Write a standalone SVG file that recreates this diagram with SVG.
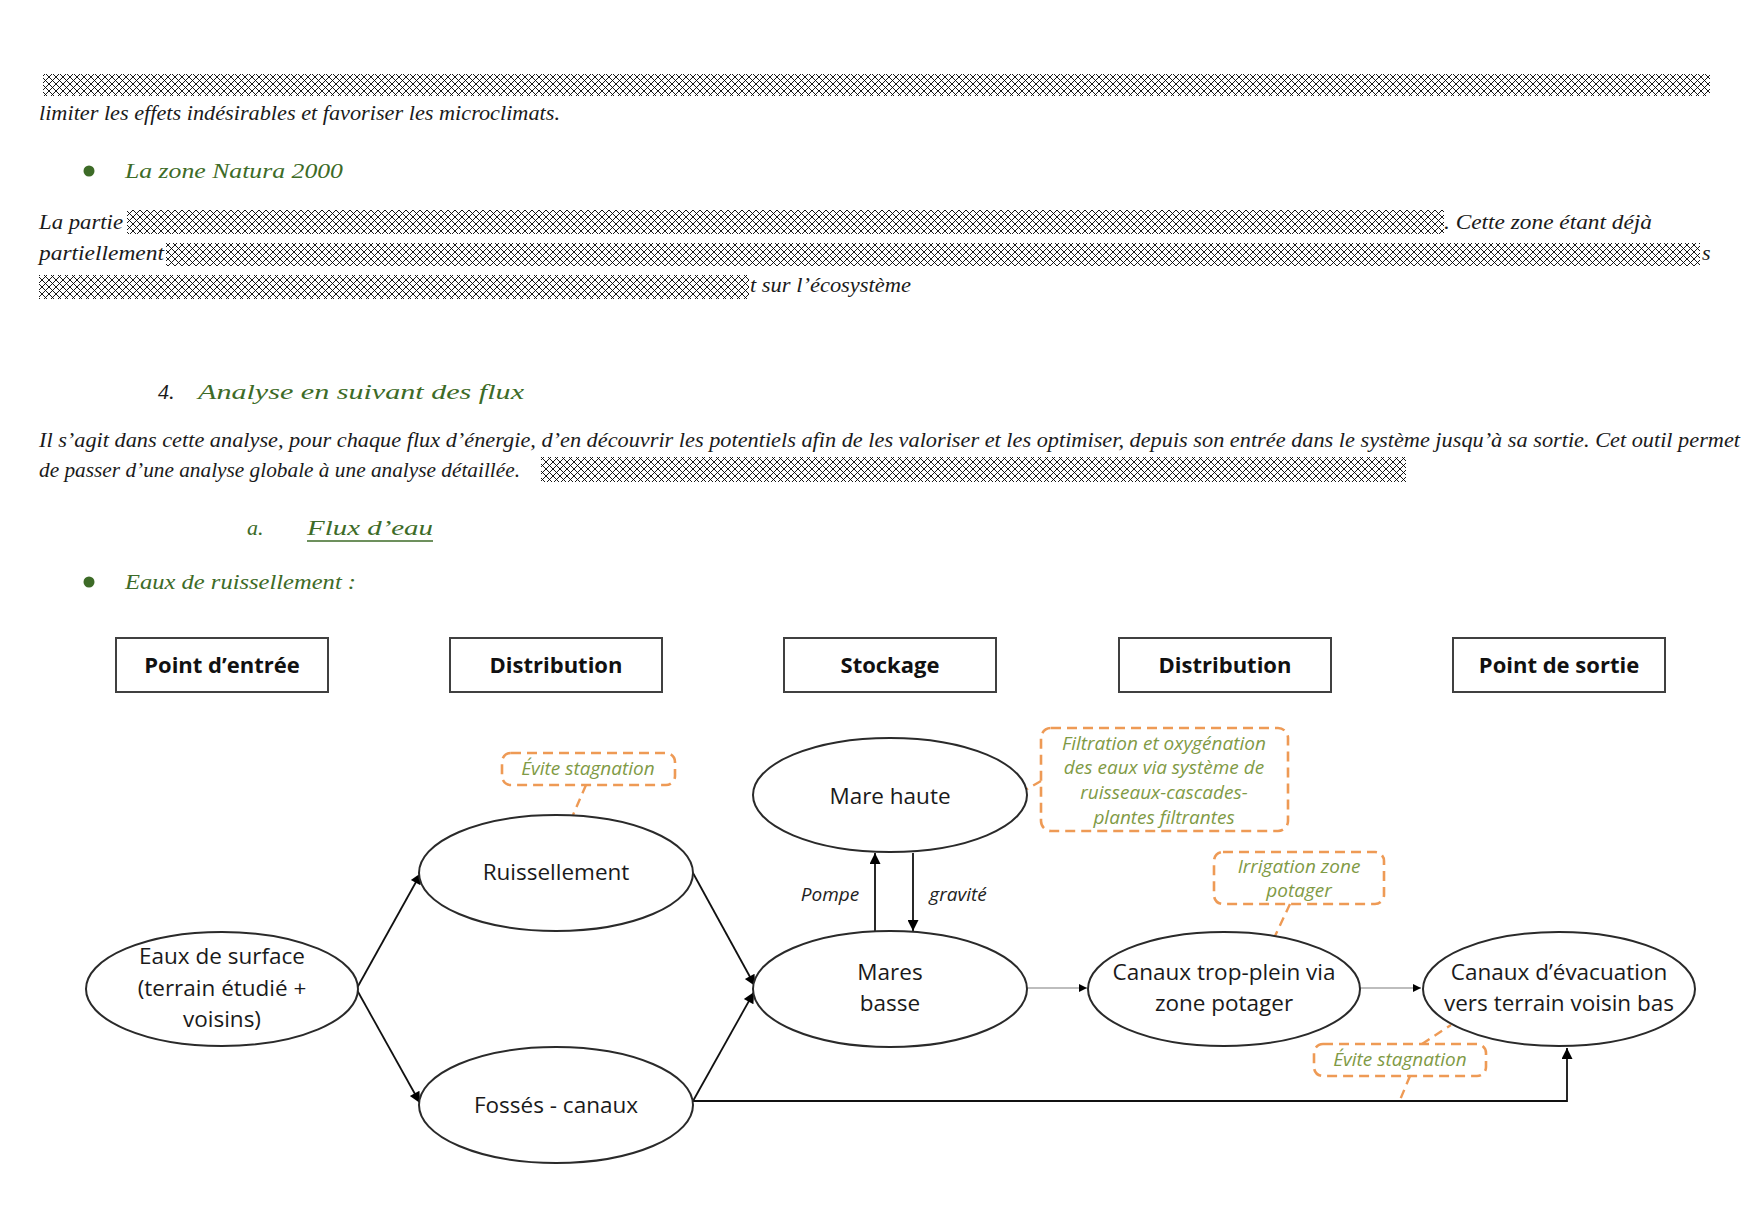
<svg xmlns="http://www.w3.org/2000/svg" width="1754" height="1217" viewBox="0 0 1754 1217">
<defs>
<pattern id="hatch" width="7" height="7" patternUnits="userSpaceOnUse">
<rect width="7" height="7" fill="#fff"/>
<path d="M0,0 L7,7 M7,0 L0,7" stroke="#000" stroke-width="0.9"/>
</pattern>
<marker id="ah" viewBox="0 0 10 10" refX="10" refY="5" markerWidth="15" markerHeight="11" markerUnits="userSpaceOnUse" orient="auto">
<path d="M0,0 L10,5 L0,10 z" fill="#000"/>
</marker>
<marker id="ahs" viewBox="0 0 10 10" refX="10" refY="5" markerWidth="8" markerHeight="8" markerUnits="userSpaceOnUse" orient="auto">
<path d="M0,0 L10,5 L0,10 z" fill="#000"/>
</marker>
<style>
.body{font-family:"Liberation Serif",serif;font-style:italic;font-size:22px;fill:#1a1a1a}
.green{fill:#3d6b27}
.hatch{fill:url(#hatch)}
.hdr rect{fill:#fff;stroke:#404040;stroke-width:2}
.hdr text{font-family:"Open Sans",sans-serif;font-weight:bold;font-size:22px;fill:#111;text-anchor:middle}
.node ellipse{fill:#fff;stroke:#2a2a2a;stroke-width:2}
.node text{font-family:"Open Sans",sans-serif;font-size:22.5px;fill:#1a1a1a;text-anchor:middle}
.note rect{fill:none;stroke:#ee9a55;stroke-width:2.6;stroke-dasharray:10 6}
.note text{font-family:"Open Sans",sans-serif;font-style:italic;font-size:19px;fill:#7f9a45;text-anchor:middle}
.lead{fill:none;stroke:#ee9a55;stroke-width:2.4;stroke-dasharray:9 6}
.conn path{fill:none;stroke:#111;stroke-width:1.8}
.conn path.gray{stroke:#bdbdbd;stroke-width:2}
.lbl{font-family:"Open Sans",sans-serif;font-style:italic;font-size:19px;fill:#222;text-anchor:middle}
</style>
</defs>
<rect width="1754" height="1217" fill="#fff"/>

<g id="text-block">
<rect class="hatch" x="43" y="74" width="1667" height="22"/>
<text class="body" x="39" y="120" textLength="521" lengthAdjust="spacingAndGlyphs">limiter les effets indésirables et favoriser les microclimats.</text>
<circle cx="89" cy="171" r="5.5" fill="#3d6b27"/>
<text class="body green" x="125" y="178" font-size="26" textLength="218" lengthAdjust="spacingAndGlyphs">La zone Natura 2000</text>
<text class="body" x="39" y="229" textLength="84" lengthAdjust="spacingAndGlyphs">La partie</text>
<rect class="hatch" x="127" y="210" width="1317" height="24"/>
<text class="body" x="1444" y="229" textLength="208" lengthAdjust="spacingAndGlyphs">. Cette zone étant déjà</text>
<text class="body" x="39" y="260" textLength="125" lengthAdjust="spacingAndGlyphs">partiellement</text>
<rect class="hatch" x="166" y="243" width="1534" height="23"/>
<text class="body" x="1702" y="260">s</text>
<rect class="hatch" x="39" y="275" width="710" height="24"/>
<text class="body" x="750" y="292" textLength="161" lengthAdjust="spacingAndGlyphs">t sur l’écosystème</text>
<text class="body" x="158" y="399" font-size="30" font-style="normal">4.</text>
<text class="body green" x="198" y="399" font-size="33" textLength="326" lengthAdjust="spacingAndGlyphs">Analyse en suivant des flux</text>
<text class="body" x="39" y="447" textLength="1701" lengthAdjust="spacingAndGlyphs">Il s’agit dans cette analyse, pour chaque flux d’énergie, d’en découvrir les potentiels afin de les valoriser et les optimiser, depuis son entrée dans le système jusqu’à sa sortie. Cet outil permet</text>
<text class="body" x="39" y="477" textLength="481" lengthAdjust="spacingAndGlyphs">de passer d’une analyse globale à une analyse détaillée.</text>
<rect class="hatch" x="541" y="457" width="865" height="25"/>
<text class="body green" x="247" y="535" font-size="28">a.</text>
<text class="body green" x="307" y="535" font-size="29" textLength="126" lengthAdjust="spacingAndGlyphs">Flux d’eau</text>
<line x1="307" y1="541" x2="433" y2="541" stroke="#3d6b27" stroke-width="1.6"/>
<circle cx="89" cy="582" r="5.5" fill="#3d6b27"/>
<text class="body green" x="125" y="589" font-size="26" textLength="231" lengthAdjust="spacingAndGlyphs">Eaux de ruissellement :</text>
</g>

<g id="headers" class="hdr">
<g id="h-entree"><rect x="116" y="638" width="212" height="54"/><text x="222" y="673">Point d’entrée</text></g>
<g id="h-distrib1"><rect x="450" y="638" width="212" height="54"/><text x="556" y="673">Distribution</text></g>
<g id="h-stockage"><rect x="784" y="638" width="212" height="54"/><text x="890" y="673">Stockage</text></g>
<g id="h-distrib2"><rect x="1119" y="638" width="212" height="54"/><text x="1225" y="673">Distribution</text></g>
<g id="h-sortie"><rect x="1453" y="638" width="212" height="54"/><text x="1559" y="673">Point de sortie</text></g>
</g>

<g id="connectors" class="conn">
<path d="M357,988 L421,873" marker-end="url(#ah)"/>
<path d="M357,990 L420,1103" marker-end="url(#ah)"/>
<path d="M693,873 L755,986" marker-end="url(#ah)"/>
<path d="M693,1101 L754,992" marker-end="url(#ah)"/>
<path d="M693,1101 L1567,1101 L1567,1048" marker-end="url(#ah)"/>
<path d="M875,931 L875,853" marker-end="url(#ah)"/>
<path d="M913,853 L913,931" marker-end="url(#ah)"/>
<path class="gray" d="M1027,988 L1087,988" marker-end="url(#ahs)"/>
<path class="gray" d="M1360,988 L1421,988" marker-end="url(#ahs)"/>
</g>
<text class="lbl" x="830" y="901">Pompe</text>
<text class="lbl" x="958" y="901">gravité</text>

<g id="leaders">
<path class="lead" d="M586,785 L573,815"/>
<path class="lead" d="M1041,781 L1027,789"/>
<path class="lead" d="M1290,904 L1275,936"/>
<path class="lead" d="M1422,1044 L1451,1025"/>
<path class="lead" d="M1410,1076 L1400,1100"/>
</g>

<g id="n-eaux" class="node"><ellipse cx="222" cy="989" rx="136" ry="57"/>
<text x="222" y="964">Eaux de surface</text><text x="222" y="996">(terrain étudié +</text><text x="222" y="1027">voisins)</text></g>
<g id="n-ruis" class="node"><ellipse cx="556" cy="873" rx="137" ry="58"/><text x="556" y="880">Ruissellement</text></g>
<g id="n-fosses" class="node"><ellipse cx="556" cy="1105" rx="137" ry="58"/><text x="556" y="1113">Fossés - canaux</text></g>
<g id="n-marehaute" class="node"><ellipse cx="890" cy="795" rx="137" ry="57"/><text x="890" y="804">Mare haute</text></g>
<g id="n-maresbasse" class="node"><ellipse cx="890" cy="989" rx="137" ry="58"/><text x="890" y="980">Mares</text><text x="890" y="1011">basse</text></g>
<g id="n-tropplein" class="node"><ellipse cx="1224" cy="989" rx="136" ry="57"/><text x="1224" y="980">Canaux trop-plein via</text><text x="1224" y="1011">zone potager</text></g>
<g id="n-evac" class="node"><ellipse cx="1559" cy="989" rx="136" ry="57"/><text x="1559" y="980">Canaux d’évacuation</text><text x="1559" y="1011">vers terrain voisin bas</text></g>

<g id="note-stag1" class="note"><rect x="502" y="753" width="173" height="32" rx="9"/><text x="588" y="775">Évite stagnation</text></g>
<g id="note-filtr" class="note"><rect x="1041" y="728" width="247" height="103" rx="10"/>
<text x="1164" y="750">Filtration et oxygénation</text><text x="1164" y="774">des eaux via système de</text><text x="1164" y="799">ruisseaux-cascades-</text><text x="1164" y="824">plantes filtrantes</text></g>
<g id="note-irrig" class="note"><rect x="1214" y="852" width="170" height="52" rx="9"/><text x="1299" y="873">Irrigation zone</text><text x="1299" y="897">potager</text></g>
<g id="note-stag2" class="note"><rect x="1314" y="1044" width="172" height="32" rx="9"/><text x="1400" y="1066">Évite stagnation</text></g>
</svg>
